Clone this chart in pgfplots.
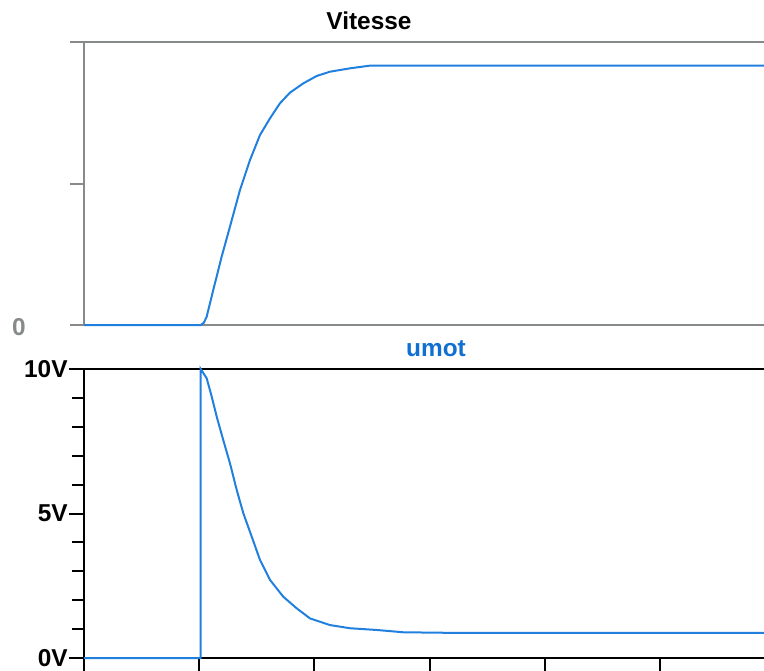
\documentclass[border=0pt]{standalone}
\usepackage{pgfplots}
\pgfplotsset{compat=1.18}
\usepackage{fontspec}
\setmainfont{Liberation Sans}
\definecolor{curveblue}{RGB}{33,128,222}
\definecolor{titleblue}{RGB}{16,112,210}
\definecolor{axgray}{RGB}{134,138,138}
\newcommand{\lbl}{\fontsize{12.2}{14}\selectfont\bfseries}
\begin{document}
\begin{tikzpicture}
\path[use as bounding box] (0pt,0pt) rectangle (382pt,335pt);
% ---- top: Vitesse ----
\begin{axis}[
  at={(42pt,172.5pt)}, anchor=south west,
  width=340pt, height=141.5pt, scale only axis,
  xmin=0, xmax=5.903, ymin=0, ymax=2,
  axis line style={draw=none},
  xtick=\empty,
  ytick={0,1,2}, yticklabels={}, ytick pos=left,
  tick align=outside, major tick length=7pt,
  y tick style={draw=axgray, line width=1pt},
  clip=false,
]
\draw[axgray, line width=1pt] (rel axis cs:0,0) -- (rel axis cs:0,1);
\draw[axgray, line width=1pt] (rel axis cs:0,0) -- (rel axis cs:1,0);
\draw[axgray, line width=1pt] (rel axis cs:0,1) -- (rel axis cs:1,1);
\addplot[curveblue, line width=1pt] coordinates {
(0,0) (1.013,0) (1.040,0.015) (1.065,0.059) (1.122,0.247) (1.195,0.483) (1.267,0.695)
(1.354,0.954) (1.441,1.166) (1.528,1.343) (1.615,1.461) (1.701,1.567)
(1.788,1.642) (1.904,1.708) (2.020,1.760) (2.135,1.790) (2.309,1.814)
(2.483,1.833) (5.903,1.833)
};
\end{axis}
% ---- bottom: umot ----
\begin{axis}[
  at={(42pt,6pt)}, anchor=south west,
  width=340pt, height=144.5pt, scale only axis,
  xmin=0, xmax=5.903, ymin=0, ymax=10,
  axis line style={draw=none},
  xtick={0,1,2,3,4,5}, xticklabels={}, xtick pos=bottom,
  ytick={0,5,10}, yticklabels={0V,5V,10V}, ytick pos=left,
  minor ytick={1,2,3,4,6,7,8,9},
  tick align=outside, major tick length=7.5pt, minor tick length=6pt,
  tick style={draw=black, line width=1pt},
  /pgf/number format/assume math mode=true,
  yticklabel style={font=\lbl, inner sep=0pt, xshift=-0.5pt},
  clip=false,
]
\draw[black, line width=1pt] (rel axis cs:0,0) -- (rel axis cs:0,1);
\draw[black, line width=1pt] (rel axis cs:0,0) -- (rel axis cs:1,0);
\draw[black, line width=1pt] (rel axis cs:0,1) -- (rel axis cs:1,1);
\addplot[curveblue, line width=1pt] coordinates {
(0,0) (1.013,0) (1.013,10) (1.065,9.68) (1.109,9.04) (1.152,8.35)
(1.209,7.54) (1.267,6.74) (1.326,5.81) (1.383,5.01) (1.456,4.20)
(1.528,3.39) (1.615,2.70) (1.730,2.12) (1.846,1.72) (1.962,1.37)
(2.135,1.14) (2.309,1.03) (2.541,0.97) (2.772,0.89) (3.2,0.87) (5.903,0.87)
};
\end{axis}
\node[anchor=base, inner sep=0pt] at (184.5pt,320.35pt) {\lbl Vitesse};
\node[anchor=base, inner sep=0pt, text=titleblue] at (218pt,156.65pt) {\lbl umot};
\node[anchor=base, inner sep=0pt, text=axgray] at (9.5pt,167.5pt) {\lbl 0};
\end{tikzpicture}
\end{document}
